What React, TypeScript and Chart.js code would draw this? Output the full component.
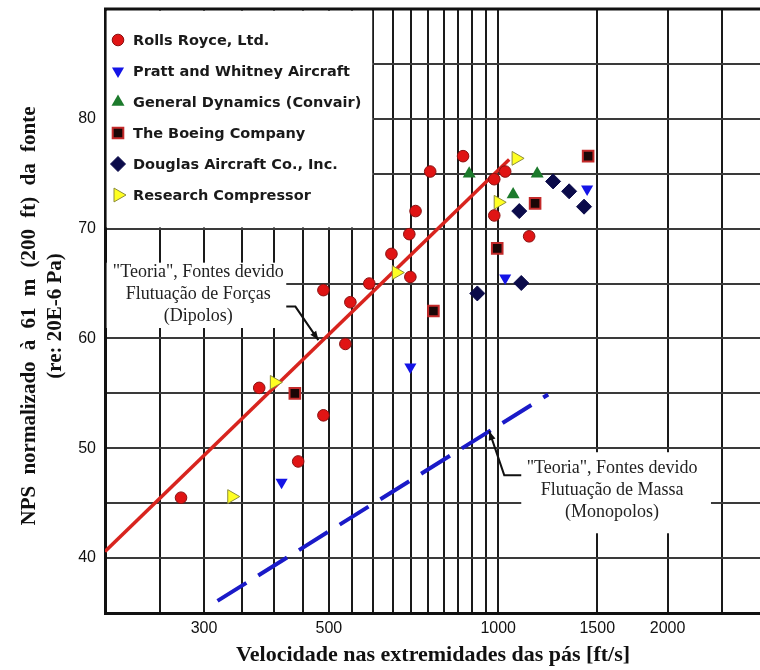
import React, { useEffect, useRef } from 'react';
import { Chart, registerables } from 'chart.js';
import { drawPoint } from 'chart.js/helpers';

Chart.register(...registerables);

// ---- data (tip speed in ft/s, normalized SPL in dB) ----
const rollsRoyceX = [273, 376, 441, 489, 489, 535, 546, 590, 646, 695, 698, 713, 757, 866, 984, 984, 1029, 1135];
const rollsRoyceY = [45.5, 55.5, 48.8, 64.4, 53.0, 59.5, 63.3, 65.0, 67.7, 69.5, 65.6, 71.6, 75.2, 76.6, 71.2, 74.5, 75.2, 69.3];

const prattX = [412, 698, 1029, 1439];
const prattY = [46.9, 57.4, 65.5, 73.6];

const generalDynX = [888, 1063, 1173];
const generalDynY = [75.0, 73.1, 75.0];

const boeingX = [435, 767, 996, 1163, 1445];
const boeingY = [55.0, 62.5, 68.2, 72.3, 76.6];

const douglasX = [918, 1099, 1090, 1252, 1337, 1421];
const douglasY = [64.1, 65.05, 71.6, 74.3, 73.4, 72.0];

const researchX = [336, 400, 659, 1000, 1076];
const researchY = [45.6, 56.0, 66.0, 72.4, 76.4];

const dipoleX = [200, 1046];
const dipoleY = [40.6, 76.3];

const monopoleX = [317, 1227];
const monopoleY = [36.1, 54.9];

const xGridValues = [200, 250, 300, 350, 400, 450, 500, 550, 600, 650, 700, 750, 800, 850, 900, 950, 1000, 1500, 2000, 2500];
const xLabelValues = [300, 500, 1000, 1500, 2000];
const yLabelValues = [40, 50, 60, 70, 80];

const xTitle = 'Velocidade nas extremidades das pás [ft/s]';
const yTitle = ['NPS normalizado à 61 m (200 ft) da fonte', '(re: 20E-6 Pa)'];
const dipoleNote = ['"Teoria", Fontes devido', 'Flutuação de Forças', '(Dipolos)'];
const monopoleNote = ['"Teoria", Fontes devido', 'Flutuação de Massa', '(Monopolos)'];

const toPts = (xs: number[], ys: number[]) => xs.map((x, i) => ({ x, y: ys[i] }));

const seriesStyles = [
  { label: 'Rolls Royce, Ltd.', xs: rollsRoyceX, ys: rollsRoyceY, pointStyle: 'circle', rotation: 0, radius: 5.8, bg: '#e01414', border: '#8a1010', bw: 1 },
  { label: 'Pratt and Whitney Aircraft', xs: prattX, ys: prattY, pointStyle: 'triangle', rotation: 180, radius: 7, bg: '#1414e6', border: '#1414e6', bw: 0 },
  { label: 'General Dynamics (Convair)', xs: generalDynX, ys: generalDynY, pointStyle: 'triangle', rotation: 0, radius: 7.5, bg: '#1c7a2c', border: '#1c7a2c', bw: 0 },
  { label: 'The Boeing Company', xs: boeingX, ys: boeingY, pointStyle: 'rect', rotation: 0, radius: 7.5, bg: '#1a0606', border: '#c42a2a', bw: 2 },
  { label: 'Douglas Aircraft Co., Inc.', xs: douglasX, ys: douglasY, pointStyle: 'rectRot', rotation: 0, radius: 7.5, bg: '#0b0b4a', border: '#0b0b4a', bw: 1 },
  { label: 'Research Compressor', xs: researchX, ys: researchY, pointStyle: 'triangle', rotation: 90, radius: 8, bg: '#ffff22', border: '#8c8c3c', bw: 1 },
];

const overlayPlugin = {
  id: 'overlay',
  beforeDatasetsDraw(chart: any) {
    const { ctx, chartArea: a, scales } = chart;
    const xs = scales.x, ys = scales.y;
    ctx.save();
    ctx.fillStyle = '#ffffff';
    // legend box
    const lx1 = xs.getPixelForValue(600) - 1.2;
    const ly1 = ys.getPixelForValue(70) - 1.2;
    ctx.fillRect(a.left + 1.6, a.top + 1.6, lx1 - a.left - 1.6, ly1 - a.top - 1.6);
    // annotation boxes
    const b1x1 = xs.getPixelForValue(420), b1y0 = ys.getPixelForValue(66.9), b1y1 = ys.getPixelForValue(60.95);
    ctx.fillRect(a.left + 1.6, b1y0, b1x1 - a.left - 1.6, b1y1 - b1y0);
    const b2x0 = xs.getPixelForValue(1099), b2x1 = xs.getPixelForValue(2389);
    const b2y0 = ys.getPixelForValue(49.64), b2y1 = ys.getPixelForValue(42.26);
    ctx.fillRect(b2x0, b2y0, b2x1 - b2x0, b2y1 - b2y0);
    // top border
    ctx.strokeStyle = '#111';
    ctx.lineWidth = 3;
    ctx.beginPath();
    ctx.moveTo(a.left - 1, a.top);
    ctx.lineTo(a.right, a.top);
    ctx.stroke();
    ctx.restore();
  },
  afterDatasetsDraw(chart: any) {
    const { ctx, chartArea: a, scales } = chart;
    const xs = scales.x, ys = scales.y;
    ctx.save();
    // legend entries
    const lx = a.left + 13;
    seriesStyles.forEach((s, i) => {
      const y = a.top + 31 + i * 31;
      ctx.fillStyle = s.bg;
      ctx.strokeStyle = s.border;
      ctx.lineWidth = s.bw;
      drawPoint(ctx, { pointStyle: s.pointStyle, rotation: s.rotation, radius: s.radius, borderWidth: s.bw } as any, lx, y);
      ctx.fillStyle = '#1a1a1a';
      ctx.font = 'bold 14.5px "DejaVu Sans"';
      ctx.textAlign = 'left';
      ctx.textBaseline = 'middle';
      ctx.fillText(s.label, lx + 15, y + 1);
    });
    // annotation texts
    ctx.fillStyle = '#222';
    ctx.font = '18px "Liberation Serif"';
    ctx.textAlign = 'center';
    ctx.textBaseline = 'middle';
    const t1x = xs.getPixelForValue(293);
    [66.0, 64.0, 62.0].forEach((v, i) => ctx.fillText(dipoleNote[i], t1x, ys.getPixelForValue(v)));
    const t2x = xs.getPixelForValue(1594);
    [48.2, 46.2, 44.2].forEach((v, i) => ctx.fillText(monopoleNote[i], t2x, ys.getPixelForValue(v)));
    // leader arrows
    const arrow = (pts: number[][]) => {
      const p = pts.map(([vx, vy]) => [xs.getPixelForValue(vx), ys.getPixelForValue(vy)]);
      ctx.strokeStyle = '#111';
      ctx.fillStyle = '#111';
      ctx.lineWidth = 2;
      ctx.beginPath();
      ctx.moveTo(p[0][0], p[0][1]);
      for (let i = 1; i < p.length; i++) ctx.lineTo(p[i][0], p[i][1]);
      ctx.stroke();
      const [x1, y1] = p[p.length - 2];
      const [x2, y2] = p[p.length - 1];
      const ang = Math.atan2(y2 - y1, x2 - x1);
      const L = 9, W = 3.5;
      ctx.beginPath();
      ctx.moveTo(x2, y2);
      ctx.lineTo(x2 - L * Math.cos(ang) + W * Math.sin(ang), y2 - L * Math.sin(ang) - W * Math.cos(ang));
      ctx.lineTo(x2 - L * Math.cos(ang) - W * Math.sin(ang), y2 - L * Math.sin(ang) + W * Math.cos(ang));
      ctx.closePath();
      ctx.fill();
    };
    arrow([[420, 62.9], [436, 62.9], [479, 59.85]]);
    arrow([[1099, 47.55], [1025, 47.55], [964, 51.56]]);
    // axis titles
    ctx.fillStyle = '#111';
    ctx.font = 'bold 22px "Liberation Serif"';
    ctx.textAlign = 'center';
    ctx.textBaseline = 'middle';
    ctx.fillText(xTitle, 433, 655);
    ctx.translate(0, 316);
    ctx.rotate(-Math.PI / 2);
    ctx.font = 'bold 21px "Liberation Serif"';
    (ctx as any).wordSpacing = '6px';
    ctx.fillText(yTitle[0], 0, 30);
    (ctx as any).wordSpacing = '0px';
    ctx.fillText(yTitle[1], 0, 56);
    ctx.restore();
  },
};

export default function App() {
  const ref = useRef<HTMLCanvasElement | null>(null);
  useEffect(() => {
    if (!ref.current) return;
    const datasets: any[] = seriesStyles.map((s) => ({
      label: s.label,
      data: toPts(s.xs, s.ys),
      showLine: false,
      pointStyle: s.pointStyle,
      rotation: s.rotation,
      pointRadius: s.radius,
      backgroundColor: s.bg,
      borderColor: s.border,
      borderWidth: s.bw,
      order: 1,
    }));
    datasets.push({
      label: 'Dipolos',
      data: toPts(dipoleX, dipoleY),
      showLine: true,
      pointRadius: 0,
      borderColor: '#d8241e',
      borderWidth: 3.5,
      order: 5,
    });
    datasets.push({
      label: 'Monopolos',
      data: toPts(monopoleX, monopoleY),
      showLine: true,
      pointRadius: 0,
      borderColor: '#1a1ac8',
      borderWidth: 4,
      borderDash: [34, 14],
      order: 5,
    });
    const chart = new Chart(ref.current, {
      type: 'scatter',
      data: { datasets },
      plugins: [overlayPlugin],
      options: {
        animation: false,
        responsive: false,
        layout: { autoPadding: false, padding: { top: 9, left: 0, right: 0, bottom: 0 } },
        plugins: { legend: { display: false }, tooltip: { enabled: false } },
        scales: {
          x: {
            type: 'logarithmic',
            min: 200,
            max: 2920,
            afterBuildTicks: (scale: any) => {
              scale.ticks = xGridValues.map((v) => ({ value: v }));
            },
            afterFit: (scale: any) => {
              scale.height = 57;
              scale.paddingLeft = 0;
              scale.paddingRight = 0;
            },
            ticks: {
              autoSkip: false,
              maxRotation: 0,
              padding: 6,
              color: '#111',
              font: { family: '"Liberation Sans"', size: 16 },
              callback: (v: any) => (xLabelValues.includes(Number(v)) ? String(v) : ''),
            },
            grid: { color: '#1a1a1a', lineWidth: 2, drawTicks: false },
            border: { color: '#111', width: 3 },
          },
          y: {
            min: 35,
            max: 90,
            afterFit: (scale: any) => {
              scale.width = 105;
              scale.paddingTop = 0;
              scale.paddingBottom = 0;
            },
            ticks: {
              stepSize: 5,
              padding: 9,
              color: '#111',
              font: { family: '"Liberation Sans"', size: 16 },
              callback: (v: any) => (yLabelValues.includes(Number(v)) ? String(v) : ''),
            },
            grid: { color: '#3a3a3a', lineWidth: 2, drawTicks: false },
            border: { color: '#111', width: 3 },
          },
        },
      },
    });
    return () => chart.destroy();
  }, []);
  return (
    <div style={{ position: 'fixed', left: 0, top: 0, width: 760, height: 670, background: '#fff' }}>
      <canvas ref={ref} width={760} height={670} style={{ display: 'block', width: 760, height: 670 }} />
    </div>
  );
}
